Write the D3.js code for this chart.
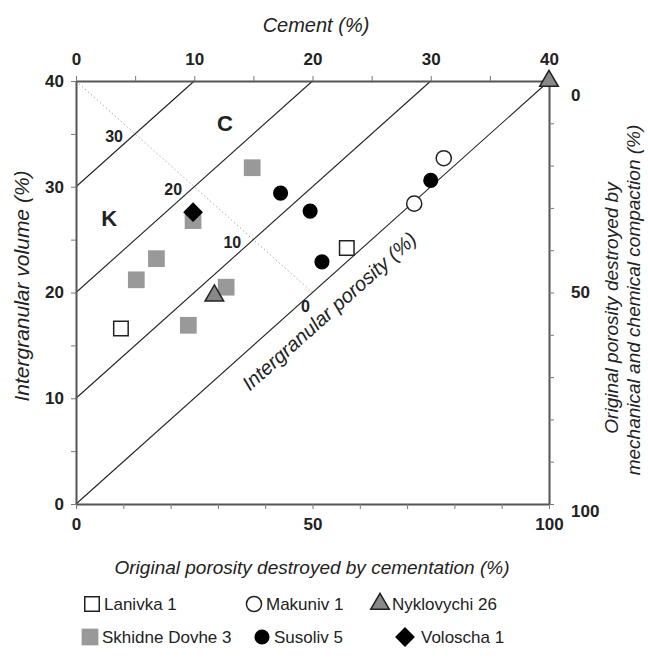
<!DOCTYPE html>
<html>
<head>
<meta charset="utf-8">
<script src="https://cdn.jsdelivr.net/npm/d3@7"></script>
<style>
  body { margin: 0; background: #fff; }
  svg text { font-family: "Liberation Sans", Arial, sans-serif; fill: #222; }
</style>
</head>
<body>
<div id="chart"></div>
<script>
const w = 648;
const h = 659;

// cement (%) and intergranular volume (%) per well
const lanivkaCement = [3.8, 22.9];
const lanivkaIgv = [16.6, 24.2];
const makunivCement = [28.6, 31.1];
const makunivIgv = [28.4, 32.7];
const nyklovychiCement = [11.7, 40];
const nyklovychiIgv = [19.7, 40];
const skhidneCement = [14.9, 9.9, 6.8, 5.1, 12.7, 9.5];
const skhidneIgv = [31.8, 26.8, 23.2, 21.2, 20.5, 16.9];
const susolivCement = [17.3, 19.8, 20.8, 30.0];
const susolivIgv = [29.4, 27.7, 22.9, 30.6];
const voloschaCement = [9.9];
const voloschaIgv = [27.6];

// lines of constant intergranular porosity (IGV - cement)
const porosityLines = [0, 10, 20, 30];

const cementTicks = [0, 5, 10, 15, 20, 25, 30, 35, 40];
const igvTicks = [0, 5, 10, 15, 20, 25, 30, 35, 40];
const pctTicks = [0, 10, 20, 30, 40, 50, 60, 70, 80, 90, 100];
const pctLabels = [0, 50, 100];

const x = d3.scaleLinear().domain([0, 40]).range([76, 549]);
const y = d3.scaleLinear().domain([0, 40]).range([504, 81]);
const xPct = d3.scaleLinear().domain([0, 100]).range([76, 549]);
const yPct = d3.scaleLinear().domain([0, 100]).range([81, 504]);

const svg = d3.select('#chart')
  .append('svg')
  .attr('width', w)
  .attr('height', h);

// dotted guide from top-left corner to the 0 line
svg.append('line')
  .attr('x1', x(0)).attr('y1', y(40))
  .attr('x2', x(20)).attr('y2', y(20))
  .attr('stroke', '#aaa')
  .attr('stroke-width', 1)
  .attr('stroke-dasharray', '1.5,2.5');

svg.selectAll('.por')
  .data(porosityLines)
  .enter()
  .append('line')
  .attr('class', 'por')
  .attr('x1', d => x(0))
  .attr('y1', d => y(d))
  .attr('x2', d => x(40 - d))
  .attr('y2', d => y(40))
  .attr('stroke', '#222')
  .attr('stroke-width', 1.1);

// labels where the porosity lines cross the dotted guide
svg.selectAll('.porlab')
  .data(porosityLines)
  .enter()
  .append('text')
  .attr('class', 'porlab')
  .attr('x', d => x((40 - d) / 2) + (d === 0 ? -7 : -21))
  .attr('y', d => y((40 + d) / 2) + (d === 0 ? 19 : 8))
  .attr('text-anchor', 'middle')
  .attr('font-weight', 'bold')
  .attr('font-size', 16)
  .text(d => d);

svg.append('text')
  .attr('x', x(2.8)).attr('y', y(27) + 8)
  .attr('text-anchor', 'middle')
  .attr('font-weight', 'bold').attr('font-size', 22)
  .text('K');
svg.append('text')
  .attr('x', x(12.6)).attr('y', y(36) + 8)
  .attr('text-anchor', 'middle')
  .attr('font-weight', 'bold').attr('font-size', 22)
  .text('C');

const angle = -Math.atan((y(0) - y(40)) / (x(40) - x(0))) * 180 / Math.PI;
svg.append('text')
  .attr('transform', 'translate(' + x(20) + ',' + y(20) + ') rotate(' + angle + ')')
  .attr('text-anchor', 'middle')
  .attr('dy', 32)
  .attr('font-style', 'italic')
  .attr('font-size', 20)
  .text('Intergranular porosity (%)');

// axes
const fmt10 = d => (d % 10 === 0 ? d : '');
const fmtPct = d => (pctLabels.includes(d) ? d : '');

const axTop = svg.append('g')
  .attr('transform', 'translate(0,' + y(40) + ')')
  .call(d3.axisTop(x).tickValues(cementTicks).tickFormat(fmt10).tickSize(5).tickSizeOuter(0));
const axLeft = svg.append('g')
  .attr('transform', 'translate(' + x(0) + ',0)')
  .call(d3.axisLeft(y).tickValues(igvTicks).tickFormat(fmt10).tickSize(5).tickSizeOuter(0));
const axBottom = svg.append('g')
  .attr('transform', 'translate(0,' + y(0) + ')')
  .call(d3.axisBottom(xPct).tickValues(pctTicks).tickFormat(fmtPct).tickSize(5).tickSizeOuter(0));
const axRight = svg.append('g')
  .attr('transform', 'translate(' + x(40) + ',0)')
  .call(d3.axisRight(yPct).tickValues(pctTicks).tickFormat(fmtPct).tickSize(5).tickSizeOuter(0));

[axTop, axLeft, axBottom, axRight].forEach(g => {
  g.select('.domain').attr('stroke', '#555').attr('stroke-width', 2);
  g.selectAll('.tick line').attr('stroke', '#777').attr('stroke-width', 1);
  g.selectAll('.tick text')
    .attr('font-family', '"Liberation Sans", Arial, sans-serif')
    .attr('font-weight', 'bold')
    .attr('font-size', 17)
    .attr('fill', '#222');
});
axTop.selectAll('.tick text').attr('y', -16);
axLeft.selectAll('.tick text').attr('x', -12);
axBottom.selectAll('.tick text').attr('y', 14);
axRight.selectAll('.tick text').attr('x', 22);
axRight.selectAll('.tick').filter(d => d === 0).select('text').attr('dy', '1.15em');
axRight.selectAll('.tick').filter(d => d === 100).select('text').attr('dy', '0.75em');

svg.append('text')
  .attr('x', 316).attr('y', 32)
  .attr('text-anchor', 'middle')
  .attr('font-style', 'italic').attr('font-size', 20)
  .text('Cement (%)');
svg.append('text')
  .attr('transform', 'translate(29,' + 286 + ') rotate(-90)')
  .attr('text-anchor', 'middle')
  .attr('font-style', 'italic').attr('font-size', 21)
  .text('Intergranular volume (%)');
svg.append('text')
  .attr('transform', 'translate(618,' + 308 + ') rotate(-90)')
  .attr('text-anchor', 'middle')
  .attr('font-style', 'italic').attr('font-size', 19)
  .text('Original porosity destroyed by');
svg.append('text')
  .attr('transform', 'translate(640,' + 300 + ') rotate(-90)')
  .attr('text-anchor', 'middle')
  .attr('font-style', 'italic').attr('font-size', 19)
  .text('mechanical and chemical compaction (%)');
svg.append('text')
  .attr('x', 312).attr('y', 574)
  .attr('text-anchor', 'middle')
  .attr('font-style', 'italic').attr('font-size', 19)
  .text('Original porosity destroyed by cementation (%)');

// series
const series = [
  { name: 'Lanivka 1', c: lanivkaCement, v: lanivkaIgv, sym: d3.symbolSquare, size: 210, fill: '#fff', stroke: '#222' },
  { name: 'Makuniv 1', c: makunivCement, v: makunivIgv, sym: d3.symbolCircle, size: 180, fill: '#fff', stroke: '#222' },
  { name: 'Skhidne Dovhe 3', c: skhidneCement, v: skhidneIgv, sym: d3.symbolSquare, size: 280, fill: '#999', stroke: 'none' },
  { name: 'Susoliv 5', c: susolivCement, v: susolivIgv, sym: d3.symbolCircle, size: 180, fill: '#000', stroke: 'none' },
  { name: 'Voloscha 1', c: voloschaCement, v: voloschaIgv, sym: d3.symbolDiamond2, size: 250, fill: '#000', stroke: 'none' },
  { name: 'Nyklovychi 26', c: nyklovychiCement, v: nyklovychiIgv, sym: d3.symbolTriangle, size: 150, fill: '#888', stroke: '#222' }
];

series.forEach(s => {
  svg.selectAll(null)
    .data(s.c.map((c, i) => [c, s.v[i]]))
    .enter()
    .append('path')
    .attr('d', d3.symbol().type(s.sym).size(s.size))
    .attr('transform', d => 'translate(' + x(d[0]) + ',' + y(d[1]) + ')')
    .attr('fill', s.fill)
    .attr('stroke', s.stroke)
    .attr('stroke-width', 1.5);
});

// legend
const legendPos = {
  'Lanivka 1': [92, 604], 'Makuniv 1': [254, 604], 'Nyklovychi 26': [380, 604],
  'Skhidne Dovhe 3': [90, 637], 'Susoliv 5': [262, 637], 'Voloscha 1': [405, 637]
};
series.forEach(s => {
  const p = legendPos[s.name];
  const g = svg.append('g').attr('transform', 'translate(' + p[0] + ',' + p[1] + ')');
  g.append('path')
    .attr('d', d3.symbol().type(s.sym).size(s.size))
    .attr('fill', s.fill)
    .attr('stroke', s.stroke)
    .attr('stroke-width', 1.5);
  g.append('text')
    .attr('x', s.sym === d3.symbolDiamond2 ? 16 : 12)
    .attr('y', 6)
    .attr('font-size', 17)
    .attr('fill', '#333')
    .text(s.name);
});
</script>
</body>
</html>
